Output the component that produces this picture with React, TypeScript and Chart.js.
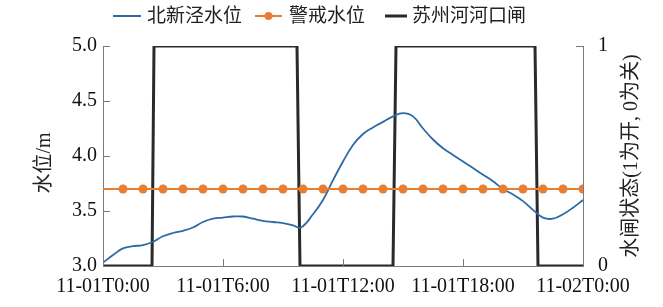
import React, { useEffect, useRef } from "react";
import { Chart, registerables } from "chart.js";

Chart.register(...registerables);

// ---- data ----
const xTickHours = [0, 6, 12, 18, 24];
const xTickLabels = ["11-01T0:00", "11-01T6:00", "11-01T12:00", "11-01T18:00", "11-02T0:00"];
const seriesNames = ["北新泾水位", "警戒水位", "苏州河河口闸"];
const leftTitle = "水位/m";
const rightTitle = "水闸状态(1为开, 0为关)";

const levelHours = [
  0, 0.5, 1, 1.5, 2, 2.5, 3, 3.5, 4, 4.5, 5, 5.5, 6, 6.5, 7, 7.5, 8, 8.5, 9, 9.5, 9.9,
  10.5, 11, 11.5, 12, 12.5, 13, 13.5, 14, 14.5, 15, 15.5, 16, 16.5, 17, 17.5, 18, 18.5,
  19, 19.5, 20, 20.5, 21, 21.5, 22, 22.5, 23, 23.5, 24,
];
const levelValues = [
  3.03, 3.1, 3.16, 3.18, 3.19, 3.22, 3.27, 3.3, 3.32, 3.35, 3.4, 3.43, 3.44, 3.45, 3.45,
  3.43, 3.41, 3.4, 3.39, 3.37, 3.35, 3.47, 3.6, 3.78, 3.95, 4.1, 4.2, 4.26, 4.31, 4.36,
  4.39, 4.36, 4.25, 4.15, 4.07, 4.01, 3.95, 3.89, 3.83, 3.77, 3.7, 3.65, 3.59, 3.51, 3.44,
  3.43, 3.47, 3.53, 3.6,
];

const warnHours = [0, 1, 2, 3, 4, 5, 6, 7, 8, 9, 10, 11, 12, 13, 14, 15, 16, 17, 18, 19, 20, 21, 22, 23, 24];
const warnValues = [
  3.7, 3.7, 3.7, 3.7, 3.7, 3.7, 3.7, 3.7, 3.7, 3.7, 3.7, 3.7, 3.7, 3.7, 3.7, 3.7, 3.7, 3.7,
  3.7, 3.7, 3.7, 3.7, 3.7, 3.7, 3.7,
];

const gateHours = [0, 2.45, 2.55, 9.7, 9.85, 14.5, 14.65, 21.6, 21.75, 24];
const gateValues = [0, 0, 1, 1, 0, 0, 1, 1, 0, 0];

const BLUE = "#2d6aa5";
const ORANGE = "#e67e33";
const BLACK = "#2a2a2a";
const AXIS = "#7a7a7a";
const FONT = "'Liberation Serif', 'Noto Sans CJK SC', serif";

const toPoints = (xs: number[], ys: number[]) => xs.map((x, i) => ({ x, y: ys[i] }));

const decorPlugin = {
  id: "decor",
  afterDraw(chart: any) {
    const ctx = chart.ctx as CanvasRenderingContext2D;
    const { x, y, y1 } = chart.scales;
    const area = chart.chartArea;
    ctx.save();
    // inner tick marks
    ctx.strokeStyle = AXIS;
    ctx.lineWidth = 1;
    ctx.beginPath();
    [3, 3.5, 4, 4.5, 5].forEach((v) => {
      const py = Math.round(y.getPixelForValue(v)) + 0.5;
      ctx.moveTo(area.left, py);
      ctx.lineTo(area.left + 7, py);
    });
    [0, 1].forEach((v) => {
      const py = Math.round(y1.getPixelForValue(v)) + 0.5;
      ctx.moveTo(area.right, py);
      ctx.lineTo(area.right - 7, py);
    });
    xTickHours.forEach((h) => {
      const px = Math.round(x.getPixelForValue(h)) + 0.5;
      ctx.moveTo(px, area.bottom);
      ctx.lineTo(px, area.bottom - 7);
    });
    ctx.stroke();

    // axis titles
    ctx.fillStyle = "#222";
    ctx.textAlign = "center";
    ctx.textBaseline = "middle";
    ctx.font = `20px ${FONT}`;
    ctx.save();
    ctx.translate(45, 163);
    ctx.rotate(-Math.PI / 2);
    ctx.fillText(leftTitle, 0, 0);
    ctx.restore();
    ctx.save();
    ctx.translate(632, 156);
    ctx.rotate(-Math.PI / 2);
    ctx.fillText(rightTitle, 0, 0);
    ctx.restore();

    // legend
    const ly = 16;
    ctx.textAlign = "left";
    ctx.font = `19px ${FONT}`;
    // item 1
    ctx.strokeStyle = BLUE;
    ctx.lineWidth = 2;
    ctx.beginPath();
    ctx.moveTo(113, ly);
    ctx.lineTo(141, ly);
    ctx.stroke();
    ctx.fillText(seriesNames[0], 147, ly + 1);
    // item 2
    ctx.strokeStyle = ORANGE;
    ctx.beginPath();
    ctx.moveTo(255, ly);
    ctx.lineTo(282, ly);
    ctx.stroke();
    ctx.fillStyle = ORANGE;
    ctx.beginPath();
    ctx.arc(268.5, ly, 4, 0, Math.PI * 2);
    ctx.fill();
    ctx.fillStyle = "#222";
    ctx.fillText(seriesNames[1], 289, ly + 1);
    // item 3
    ctx.strokeStyle = BLACK;
    ctx.lineWidth = 3;
    ctx.beginPath();
    ctx.moveTo(385, ly);
    ctx.lineTo(407, ly);
    ctx.stroke();
    ctx.fillText(seriesNames[2], 412, ly + 1);
    ctx.restore();
  },
};

export default function App() {
  const ref = useRef<HTMLCanvasElement | null>(null);

  useEffect(() => {
    document.body.style.margin = "0";
    if (!ref.current) return;
    const chart = new Chart(ref.current, {
      type: "line",
      data: {
        datasets: [
          {
            label: seriesNames[0],
            data: toPoints(levelHours, levelValues),
            borderColor: BLUE,
            backgroundColor: BLUE,
            borderWidth: 1.8,
            pointRadius: 0,
            tension: 0.4,
            yAxisID: "y",
            order: 2,
          },
          {
            label: seriesNames[1],
            data: toPoints(warnHours, warnValues),
            borderColor: ORANGE,
            backgroundColor: ORANGE,
            borderWidth: 2,
            pointRadius: warnHours.map((h) => (h === 0 ? 0 : 4.5)),
            pointBorderWidth: 0,
            yAxisID: "y",
            order: 1,
          },
          {
            label: seriesNames[2],
            data: toPoints(gateHours, gateValues),
            borderColor: BLACK,
            backgroundColor: BLACK,
            borderWidth: 3,
            pointRadius: 0,
            tension: 0,
            yAxisID: "y1",
            order: 3,
          },
        ] as any,
      },
      options: {
        animation: false,
        responsive: false,
        devicePixelRatio: 1,
        layout: { padding: { top: 46, left: 0, right: 0, bottom: 0 } },
        plugins: { legend: { display: false }, tooltip: { enabled: false } },
        scales: {
          x: {
            type: "linear",
            position: "bottom",
            min: 0,
            max: 24,
            afterBuildTicks: (scale: any) => {
              scale.ticks = xTickHours.map((v) => ({ value: v }));
            },
            afterFit: (scale: any) => {
              scale.height = 41;
            },
            ticks: {
              autoSkip: false,
              maxRotation: 0,
              padding: 9,
              color: "#111",
              font: { family: FONT, size: 20 },
              callback: (v: any) => {
                const i = xTickHours.indexOf(Number(v));
                return i >= 0 ? xTickLabels[i] : "";
              },
            },
            grid: { display: false, drawTicks: false },
            border: { display: true, color: AXIS, width: 1 },
          },
          y: {
            type: "linear",
            position: "left",
            min: 3,
            max: 5,
            afterFit: (scale: any) => {
              scale.width = 103;
            },
            ticks: {
              stepSize: 0.5,
              padding: 6,
              color: "#111",
              font: { family: FONT, size: 20 },
              callback: (v: any) => Number(v).toFixed(1),
            },
            grid: { display: false, drawTicks: false },
            border: { display: true, color: AXIS, width: 1 },
          },
          y1: {
            type: "linear",
            position: "right",
            min: 0,
            max: 1,
            afterFit: (scale: any) => {
              scale.width = 80;
            },
            ticks: {
              stepSize: 1,
              padding: 15,
              color: "#111",
              font: { family: FONT, size: 20 },
              callback: (v: any) => String(v),
            },
            grid: { display: false, drawTicks: false },
            border: { display: true, color: AXIS, width: 1 },
          },
        },
      } as any,
      plugins: [decorPlugin],
    });
    return () => chart.destroy();
  }, []);

  return (
    <div style={{ width: 663, height: 307 }}>
      <canvas ref={ref} width={663} height={307} style={{ display: "block", width: 663, height: 307 }} />
    </div>
  );
}
